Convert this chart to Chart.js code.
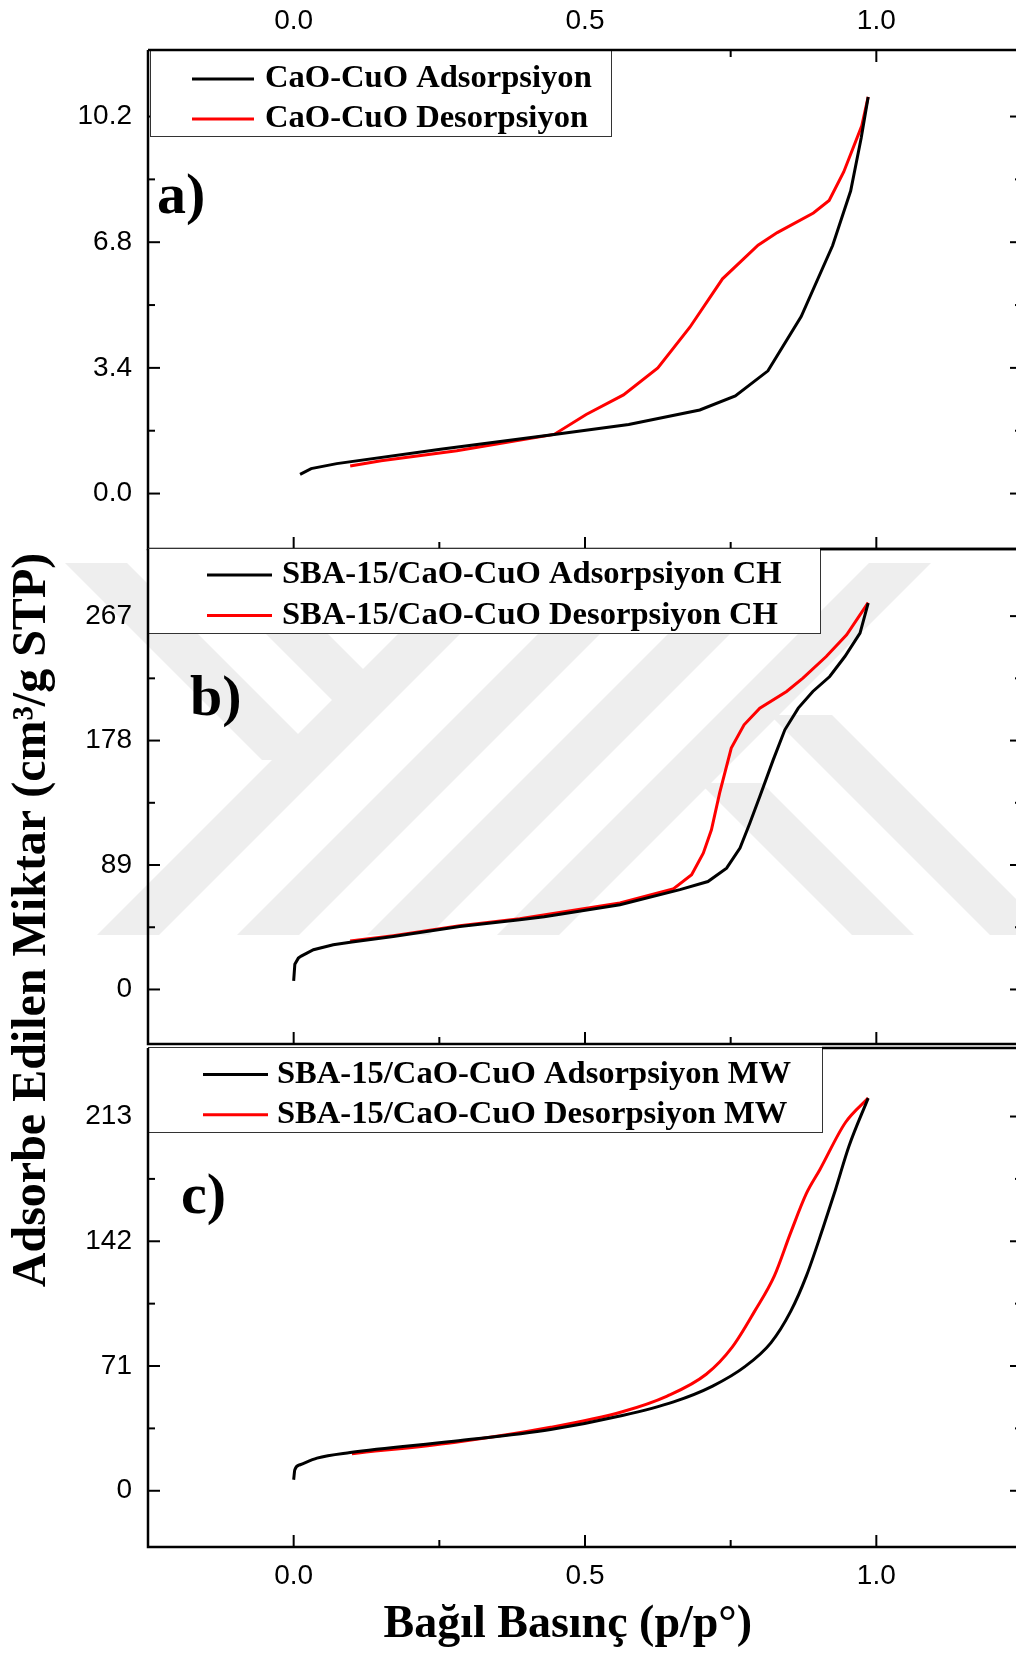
<!DOCTYPE html>
<html>
<head>
<meta charset="utf-8">
<script src="https://cdn.jsdelivr.net/npm/chart.js@4.4.1/dist/chart.umd.min.js"></script>
<style>
  html, body { margin: 0; padding: 0; background: #fff; width: 1016px; height: 1657px; overflow: hidden; }
  canvas { position: absolute; left: 0; top: 0; }
</style>
</head>
<body>
<canvas id="chartA" width="1040" height="1657"></canvas>
<canvas id="chartB" width="1040" height="1657"></canvas>
<canvas id="chartC" width="1040" height="1657"></canvas>
<script>
// ortak x ekseni (bağıl basınç)
const xMajorTicks = [0, 0.5, 1.0];
const xMinorTicks = [0.25, 0.75];

// a) CaO-CuO
const aLabels = ['CaO-CuO Adsorpsiyon', 'CaO-CuO Desorpsiyon'];
const aAdsX = [0.011, 0.03, 0.074, 0.252, 0.447, 0.575, 0.697, 0.758, 0.814, 0.871, 0.925, 0.956, 0.974, 0.986];
const aAdsY = [0.52, 0.675, 0.81, 1.20, 1.60, 1.87, 2.26, 2.64, 3.32, 4.79, 6.71, 8.19, 9.62, 10.73];
const aDesX = [0.097, 0.15, 0.28, 0.447, 0.502, 0.566, 0.625, 0.680, 0.736, 0.797, 0.830, 0.892, 0.919, 0.944, 0.975, 0.986];
const aDesY = [0.745, 0.89, 1.16, 1.60, 2.14, 2.67, 3.40, 4.50, 5.81, 6.72, 7.06, 7.59, 7.93, 8.70, 9.95, 10.73];
const aYTicks = [0, 3.4, 6.8, 10.2];
const aYMinor = [1.7, 5.1, 8.5];

// b) SBA-15/CaO-CuO CH
const bLabels = ['SBA-15/CaO-CuO Adsorpsiyon CH', 'SBA-15/CaO-CuO Desorpsiyon CH'];
const bAdsX = [0.0, 0.002, 0.008, 0.013, 0.034, 0.068, 0.1, 0.171, 0.285, 0.388, 0.43, 0.56, 0.663, 0.711, 0.743, 0.766, 0.783, 0.800, 0.823, 0.843, 0.866, 0.891, 0.920, 0.946, 0.972, 0.986];
const bAdsY = [6.1, 18, 22.4, 23.9, 28.4, 32, 34, 37.9, 45, 49.8, 52, 60.6, 71.4, 77.2, 86.8, 101.1, 119, 138, 164.2, 185.7, 201.2, 213.1, 223.8, 238.1, 254.8, 276.3];
const bDesX = [0.097, 0.171, 0.285, 0.388, 0.56, 0.651, 0.683, 0.703, 0.717, 0.731, 0.751, 0.773, 0.800, 0.846, 0.874, 0.914, 0.949, 0.986];
const bDesY = [34.6, 38.5, 45.5, 50.5, 61.8, 71.8, 82, 97.5, 114.2, 140.4, 172.6, 189.3, 201.2, 213.1, 222.7, 238.1, 253.6, 276.6];
const bYTicks = [0, 89, 178, 267];
const bYMinor = [44.5, 133.5, 222.5];

// c) SBA-15/CaO-CuO MW
const cLabels = ['SBA-15/CaO-CuO Adsorpsiyon MW', 'SBA-15/CaO-CuO Desorpsiyon MW'];
const cAdsX = [0.0, 0.002, 0.011, 0.04, 0.097, 0.275, 0.441, 0.564, 0.652, 0.719, 0.775, 0.819, 0.853, 0.880, 0.908, 0.930, 0.953, 0.986];
const cAdsY = [6.3, 12, 14.8, 18.6, 21.8, 28.2, 34.9, 42.8, 50.6, 59.6, 70.8, 84.2, 102.1, 122.3, 149.1, 171.5, 196.1, 223.5];
const cDesX = [0.1, 0.275, 0.441, 0.564, 0.641, 0.708, 0.753, 0.791, 0.825, 0.853, 0.880, 0.903, 0.947, 0.986];
const cDesY = [21.1, 27.5, 36.1, 45, 53.9, 66.3, 81.9, 102.1, 122.3, 146.9, 169.2, 182.7, 209.6, 223.5];
const cYTicks = [0, 71, 142, 213];
const cYMinor = [35.5, 106.5, 177.5];

const yTitle = 'Adsorbe Edilen Miktar (cm³/g STP)';
const xTitle = 'Bağıl Basınç (p/p°)';

Chart.defaults.color = '#000';
Chart.defaults.font.family = '"Liberation Sans", Arial, sans-serif';

const pts = (xs, ys) => xs.map((x, i) => ({ x: x, y: ys[i] }));

// çerçeve, içe dönük çentikler, lejant kutusu, panel harfi
const decor = {
  id: 'decor',
  beforeDraw(chart, args, o) {
    if (!o.watermark) return;
    const ctx = chart.ctx;
    ctx.save();
    ctx.beginPath();
    ctx.rect(0, 563, 1040, 372);
    ctx.clip();
    ctx.fillStyle = '#eeeeee';
    o.watermark.forEach(b => {
      ctx.beginPath();
      ctx.moveTo(b[0], b[1]);
      ctx.lineTo(b[0] + b[4], b[1]);
      ctx.lineTo(b[2] + b[4], b[3]);
      ctx.lineTo(b[2], b[3]);
      ctx.closePath();
      ctx.fill();
    });
    ctx.restore();
  },
  afterDraw(chart, args, o) {
    const ctx = chart.ctx;
    const ca = chart.chartArea;
    const x = chart.scales.x, y = chart.scales.y;
    const seg = (x1, y1, x2, y2) => { ctx.beginPath(); ctx.moveTo(x1, y1); ctx.lineTo(x2, y2); ctx.stroke(); };
    ctx.save();
    ctx.strokeStyle = '#000';
    ctx.lineWidth = 2;
    xMajorTicks.forEach(v => {
      const p = x.getPixelForValue(v);
      seg(p, ca.bottom, p, ca.bottom - 12);
      if (o.topTicks) seg(p, ca.top, p, ca.top + 12);
    });
    xMinorTicks.forEach(v => {
      const p = x.getPixelForValue(v);
      seg(p, ca.bottom, p, ca.bottom - 7);
      if (o.topTicks) seg(p, ca.top, p, ca.top + 7);
    });
    o.yMajor.forEach(v => {
      const p = y.getPixelForValue(v);
      seg(ca.left, p, ca.left + 12, p);
      seg(ca.right, p, ca.right - 12, p);
    });
    o.yMinor.forEach(v => {
      const p = y.getPixelForValue(v);
      seg(ca.left, p, ca.left + 7, p);
      seg(ca.right, p, ca.right - 7, p);
    });

    // lejant
    const L = o.legend;
    ctx.fillStyle = '#fff';
    ctx.fillRect(L.box[0], L.box[1], L.box[2] - L.box[0], L.box[3] - L.box[1]);
    ctx.strokeStyle = '#333';
    ctx.lineWidth = 1;
    ctx.strokeRect(L.box[0] + 0.5, L.box[1] + 0.5, L.box[2] - L.box[0], L.box[3] - L.box[1]);
    ctx.font = 'bold 32.6px "Liberation Serif"';
    ctx.textBaseline = 'middle';
    ctx.textAlign = 'left';
    chart.data.datasets.forEach((ds, i) => {
      ctx.strokeStyle = ds.borderColor;
      ctx.lineWidth = 3;
      seg(L.sample[0], L.rows[i], L.sample[1], L.rows[i]);
      ctx.fillStyle = '#000';
      ctx.fillText(ds.label, L.textX, L.rows[i]);
    });

    // panel harfi
    ctx.font = 'bold 58px "Liberation Serif"';
    ctx.textBaseline = 'alphabetic';
    ctx.fillText(o.tag[0], o.tag[1], o.tag[2]);

    // çerçeve
    ctx.strokeStyle = '#000';
    ctx.lineWidth = 2.5;
    ctx.beginPath();
    ctx.moveTo(o.topFrom || ca.left, ca.top);
    ctx.lineTo(ca.right, ca.top);
    ctx.moveTo(ca.left, ca.top);
    ctx.lineTo(ca.left, ca.bottom);
    ctx.lineTo(ca.right, ca.bottom);
    ctx.lineTo(ca.right, ca.top);
    ctx.stroke();

    // ortak y ekseni başlığı
    if (o.yTitle) {
      ctx.translate(o.yTitle[1], o.yTitle[2]);
      ctx.rotate(-Math.PI / 2);
      ctx.font = 'bold 48px "Liberation Serif"';
      ctx.textAlign = 'center';
      ctx.textBaseline = 'middle';
      ctx.fillStyle = '#000';
      ctx.fillText(o.yTitle[0], 0, 0);
    }
    ctx.restore();
  }
};

function makeDatasets(labels, ax, ay, dx, dy, mode) {
  const base = { borderWidth: 3, pointRadius: 0, fill: false, tension: 0 };
  if (mode) base.cubicInterpolationMode = mode;
  return [
    Object.assign({ label: labels[0], data: pts(ax, ay), borderColor: '#000000' }, base),
    Object.assign({ label: labels[1], data: pts(dx, dy), borderColor: '#ff0000' }, base)
  ];
}

function yScale(min, max, ticks, fmt) {
  return {
    type: 'linear', position: 'left', min: min, max: max,
    grid: { display: false, drawTicks: false }, border: { display: false },
    afterBuildTicks: s => { s.ticks = ticks.map(v => ({ value: v })); },
    afterFit: s => { s.width = 148; },
    ticks: { font: { size: 28 }, padding: 16, callback: fmt }
  };
}

function xScale(showLabels, height, title) {
  return {
    type: 'linear', position: 'bottom', min: -0.25, max: 1.25,
    grid: { display: false, drawTicks: false }, border: { display: false },
    afterBuildTicks: s => { s.ticks = xMajorTicks.map(v => ({ value: v })); },
    afterFit: s => { s.height = height; },
    ticks: { display: showLabels, font: { size: 28 }, padding: 12, callback: v => v.toFixed(1) },
    title: title ? {
      display: true, text: title + '\u00a0\u00a0\u00a0',
      font: { family: '"Liberation Serif"', size: 46, weight: 'bold' },
      padding: { top: 0, bottom: 4 }
    } : { display: false }
  };
}

const common = {
  responsive: false, animation: false, devicePixelRatio: 1,
  plugins: { legend: { display: false }, tooltip: { enabled: false } }
};

// a)
new Chart(document.getElementById('chartA'), {
  type: 'line',
  data: { datasets: makeDatasets(aLabels, aAdsX, aAdsY, aDesX, aDesY) },
  options: Object.assign({}, common, {
    parsing: false,
    layout: { padding: { left: 0, right: 18, top: 0, bottom: 1108 } },
    scales: {
      x: xScale(false, 0),
      xTop: {
        type: 'linear', position: 'top', axis: 'x', min: -0.25, max: 1.25,
        grid: { display: false, drawTicks: false }, border: { display: false },
        afterBuildTicks: s => { s.ticks = xMajorTicks.map(v => ({ value: v })); },
        afterFit: s => { s.height = 50; },
        ticks: { font: { size: 28 }, padding: 12, callback: v => v.toFixed(1) }
      },
      y: yScale(-1.5, 12, aYTicks, v => v.toFixed(1))
    },
    plugins: Object.assign({}, common.plugins, {
      decor: {
        topTicks: true, yMajor: aYTicks, yMinor: aYMinor,
        legend: { box: [150, 50, 611, 136], sample: [192, 254], rows: [79, 119], textX: 265 },
        tag: ['a)', 157, 213]
      }
    })
  }),
  plugins: [decor]
});

// b)
new Chart(document.getElementById('chartB'), {
  type: 'line',
  data: { datasets: makeDatasets(bLabels, bAdsX, bAdsY, bDesX, bDesY) },
  options: Object.assign({}, common, {
    parsing: false,
    layout: { padding: { left: 0, right: 18, top: 549, bottom: 613 } },
    scales: {
      x: xScale(false, 0),
      y: yScale(-39, 315, bYTicks, v => String(v))
    },
    plugins: Object.assign({}, common.plugins, {
      decor: {
        topTicks: false, yMajor: bYTicks, yMinor: bYMinor, topFrom: 820,
        legend: { box: [148, 548, 820, 633], sample: [207, 272], rows: [575, 615.6], textX: 282 },
        tag: ['b)', 190, 715],
        yTitle: [yTitle, 33, 920],
        watermark: [
          [469, 563, 97, 935, 62], [609, 563, 237, 935, 62], [739, 563, 367, 935, 62], [869, 563, 497, 935, 62],
          [65, 563, 262, 760, 62], [195, 563, 332, 700, 62], [700, 783, 852, 935, 62], [770, 715, 990, 935, 62]
        ]
      }
    })
  }),
  plugins: [decor]
});

// c)
new Chart(document.getElementById('chartC'), {
  type: 'line',
  data: { datasets: makeDatasets(cLabels, cAdsX, cAdsY, cDesX, cDesY, 'monotone') },
  options: Object.assign({}, common, {
    parsing: false,
    layout: { padding: { left: 0, right: 18, top: 1048, bottom: 0 } },
    scales: {
      x: xScale(true, 110, xTitle),
      y: yScale(-32, 252, cYTicks, v => String(v))
    },
    plugins: Object.assign({}, common.plugins, {
      decor: {
        topTicks: false, yMajor: cYTicks, yMinor: cYMinor, topFrom: 822,
        legend: { box: [148, 1047, 822, 1132], sample: [203, 268], rows: [1074.6, 1114.8], textX: 277 },
        tag: ['c)', 181, 1213]
      }
    })
  }),
  plugins: [decor]
});
</script>
</body>
</html>
